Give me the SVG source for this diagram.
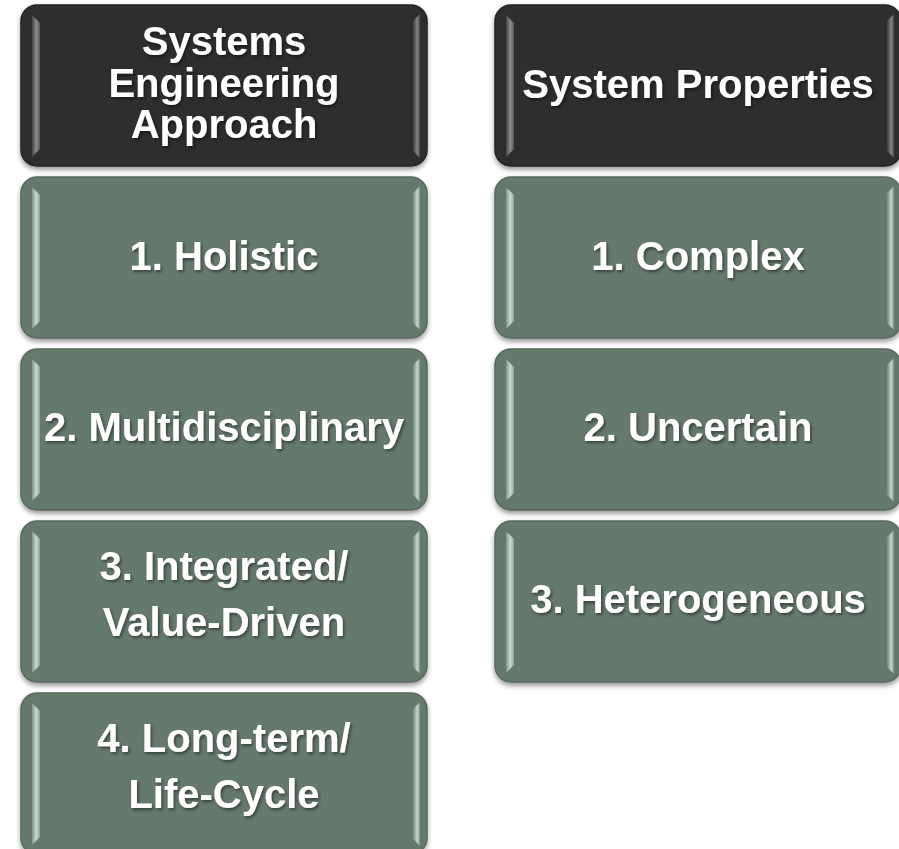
<svg xmlns="http://www.w3.org/2000/svg" xmlns:xlink="http://www.w3.org/1999/xlink" width="899" height="849" viewBox="0 0 899 849">
  <style>
    .label { font-family: "Liberation Sans", Arial, sans-serif; font-weight: bold; font-size: 40px; fill: #ffffff; text-anchor: middle; filter: url(#textShadow); }
  </style>
  <defs>
    <filter id="boxShadow" x="-5%" y="-10%" width="110%" height="125%">
      <feDropShadow dx="0" dy="3" stdDeviation="2.5" flood-color="#000" flood-opacity="0.4"/>
    </filter>
    <filter id="textShadow" x="-10%" y="-30%" width="120%" height="160%">
      <feDropShadow dx="1.5" dy="2" stdDeviation="1.8" flood-color="#000" flood-opacity="0.45"/>
    </filter>
    <!-- bevel strips, horizontal gradient across each strip -->
    <linearGradient id="gLeftGreen" x1="0" y1="0" x2="1" y2="0">
      <stop offset="0" stop-color="#7d9587"/>
      <stop offset="0.55" stop-color="#c6dccf"/>
      <stop offset="1" stop-color="#8aa394"/>
    </linearGradient>
    <linearGradient id="gRightGreen" x1="0" y1="0" x2="1" y2="0">
      <stop offset="0" stop-color="#6f8678"/>
      <stop offset="0.6" stop-color="#c2d8cb"/>
      <stop offset="1" stop-color="#7a9284"/>
    </linearGradient>
    <linearGradient id="gLeftDark" x1="0" y1="0" x2="1" y2="0">
      <stop offset="0" stop-color="#444"/>
      <stop offset="0.55" stop-color="#8c8c8c"/>
      <stop offset="1" stop-color="#555"/>
    </linearGradient>
    <linearGradient id="gRightDark" x1="0" y1="0" x2="1" y2="0">
      <stop offset="0" stop-color="#3c3c3c"/>
      <stop offset="0.6" stop-color="#858585"/>
      <stop offset="1" stop-color="#474747"/>
    </linearGradient>

    <!-- reusable rounded, bevelled box shapes (local coords, 406 x 161) -->
    <g id="boxGreen">
      <rect x="0" y="0" width="406" height="161" rx="16" fill="#65796d" stroke="#56695d" stroke-width="1.5" filter="url(#boxShadow)"/>
      <polygon points="11,10 19,18 19,144 11,152" fill="url(#gLeftGreen)"/>
      <polygon points="399,9 392,16 392,146 399,153" fill="url(#gRightGreen)"/>
    </g>
    <g id="boxDark">
      <rect x="0" y="0" width="406" height="161" rx="16" fill="#2f2f2f" stroke="#232323" stroke-width="1.5" filter="url(#boxShadow)"/>
      <polygon points="11,10 19,18 19,144 11,152" fill="url(#gLeftDark)"/>
      <polygon points="399,9 392,16 392,146 399,153" fill="url(#gRightDark)"/>
    </g>
  </defs>

  <rect width="899" height="849" fill="#ffffff"/>

  <g id="connectors"/>

  <!-- left column: approach -->
  <g id="node-approach-header" transform="translate(21,5)">
    <use xlink:href="#boxDark"/>
    <text class="label" x="203" y="50">Systems</text>
    <text class="label" x="203" y="92">Engineering</text>
    <text class="label" x="203" y="133">Approach</text>
  </g>
  <g id="node-holistic" transform="translate(21,177)">
    <use xlink:href="#boxGreen"/>
    <text class="label" x="203" y="93">1. Holistic</text>
  </g>
  <g id="node-multidisciplinary" transform="translate(21,349)">
    <use xlink:href="#boxGreen"/>
    <text class="label" x="203" y="92">2. Multidisciplinary</text>
  </g>
  <g id="node-integrated" transform="translate(21,521)">
    <use xlink:href="#boxGreen"/>
    <text class="label" x="203" y="59">3. Integrated/</text>
    <text class="label" x="203" y="115">Value-Driven</text>
  </g>
  <g id="node-lifecycle" transform="translate(21,693)">
    <use xlink:href="#boxGreen"/>
    <text class="label" x="203" y="59">4. Long-term/</text>
    <text class="label" x="203" y="115">Life-Cycle</text>
  </g>

  <!-- right column: properties -->
  <g id="node-properties-header" transform="translate(495,5)">
    <use xlink:href="#boxDark"/>
    <text class="label" x="203" y="93">System Properties</text>
  </g>
  <g id="node-complex" transform="translate(495,177)">
    <use xlink:href="#boxGreen"/>
    <text class="label" x="203" y="93">1. Complex</text>
  </g>
  <g id="node-uncertain" transform="translate(495,349)">
    <use xlink:href="#boxGreen"/>
    <text class="label" x="203" y="92">2. Uncertain</text>
  </g>
  <g id="node-heterogeneous" transform="translate(495,521)">
    <use xlink:href="#boxGreen"/>
    <text class="label" x="203" y="92">3. Heterogeneous</text>
  </g>
</svg>
